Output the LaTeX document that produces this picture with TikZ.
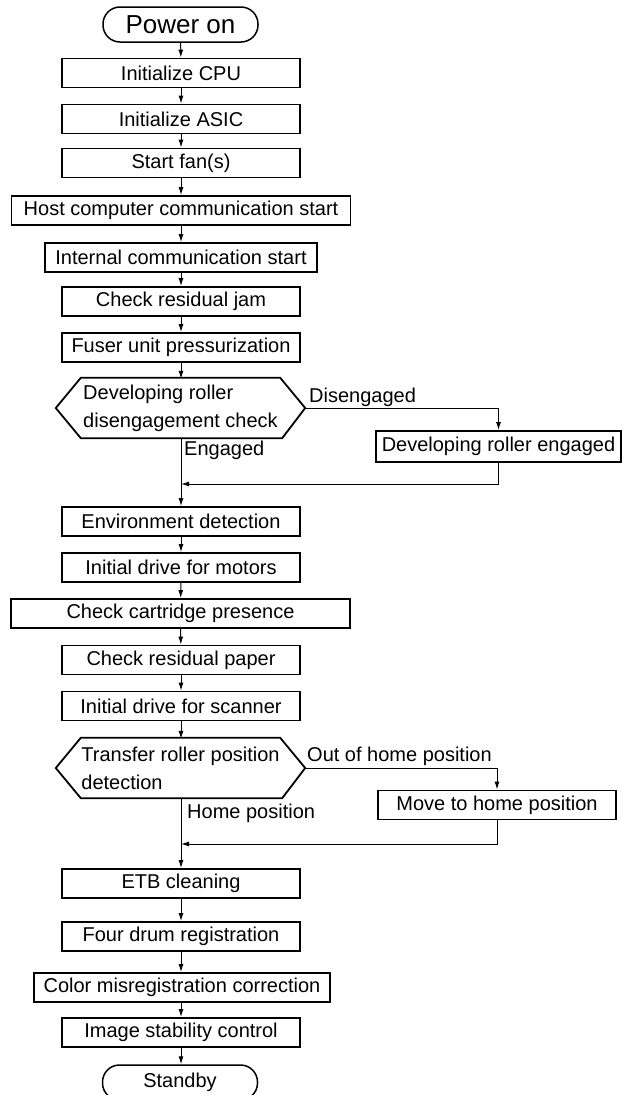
\documentclass[tikz,border=0pt]{standalone}
\usepackage{fontspec}
\setmainfont{Liberation Sans}
\usetikzlibrary{arrows.meta}

\begin{document}
\begin{tikzpicture}[x=1pt,y=-1pt,
  every node/.style={font=\fontsize{20}{28}\selectfont,inner sep=0pt},
  box/.style={draw,line width=1.8pt,minimum height=29pt,minimum width=238pt},
  term/.style={draw,line width=1.5pt,rounded corners=17pt,minimum height=35pt,minimum width=155pt},
  hex/.style={minimum height=60pt,minimum width=249pt,align=left},
  hexline/.style={line width=1.8pt,line join=miter},
  lbl/.style={anchor=west},
  e/.style={-{Latex[length=8pt,width=5pt]},line width=1pt}]
\useasboundingbox (0,0) rectangle (623,1095);
\node[term,font=\fontsize{26}{30}\selectfont] (BootPowerOn) at (180.5,24.5) {Power on};
\node[box] (BootCpu) at (181,73) {Initialize CPU};
\node[box] (BootAsic) at (181,119) {Initialize ASIC};
\node[box] (BootFan) at (181,163) {Start fan(s)};
\node[box,minimum width=339pt] (BootHost) at (181,210.5) {Host computer communication start};
\node[box,minimum width=272pt] (BootInternal) at (181,257.5) {Internal communication start};
\node[box] (BootJam) at (181,301.5) {Check residual jam};
\node[box] (BootFuser) at (181,347.5) {Fuser unit pressurization};
\node[hex] (BootDevCheck) at (180.5,408) {Developing roller\\disengagement check};
\node[box,minimum width=245pt,minimum height=31pt] (BootDevEngage) at (498.5,446.5) {Developing roller engaged};
\coordinate (BootJoinA) at (181,484);
\node[box] (BootEnv) at (181,521.5) {Environment detection};
\node[box] (BootMotors) at (181,567.5) {Initial drive for motors};
\node[box,minimum width=339pt] (BootCartridge) at (180.5,613.5) {Check cartridge presence};
\node[box] (BootPaper) at (181,660) {Check residual paper};
\node[box] (BootScanner) at (181,706) {Initial drive for scanner};
\node[hex] (BootTransfer) at (180.5,768) {Transfer roller position\\detection};
\node[box] (BootHomeMove) at (497,805) {Move to home position};
\coordinate (BootJoinB) at (181,844);
\node[box] (BootEtb) at (181,883.5) {ETB cleaning};
\node[box] (BootDrum) at (181,936.5) {Four drum registration};
\node[box,minimum width=296pt] (BootColor) at (182,987.5) {Color misregistration correction};
\node[box] (BootStability) at (181,1032.5) {Image stability control};
\node[term] (BootStandby) at (180,1082.5) {Standby};
\node[lbl] (BootDisTxt) at (309,397) {Disengaged};
\node[lbl] (BootEngTxt) at (184,450) {Engaged};
\node[lbl] (BootOutTxt) at (307,756) {Out of home position};
\node[lbl] (BootHomeTxt) at (187,813) {Home position};
\draw[hexline] (BootDevCheck.west) -- ([xshift=25pt]BootDevCheck.north west) -- ([xshift=-25pt]BootDevCheck.north east)
  -- (BootDevCheck.east) -- ([xshift=-23pt]BootDevCheck.south east) -- ([xshift=25pt]BootDevCheck.south west) -- cycle;
\draw[hexline] (BootTransfer.west) -- ([xshift=25pt]BootTransfer.north west) -- ([xshift=-25pt]BootTransfer.north east)
  -- (BootTransfer.east) -- ([xshift=-23pt]BootTransfer.south east) -- ([xshift=25pt]BootTransfer.south west) -- cycle;
\draw[e] (BootPowerOn) -- (BootCpu);
\draw[e] (BootCpu) -- (BootAsic);
\draw[e] (BootAsic) -- (BootFan);
\draw[e] (BootFan) -- (BootHost);
\draw[e] (BootHost) -- (BootInternal);
\draw[e] (BootInternal) -- (BootJam);
\draw[e] (BootJam) -- (BootFuser);
\draw[e] (BootFuser.south) -- ([yshift=-1pt]BootDevCheck.north -| BootFuser.south);
\draw[e] (BootDevCheck.east) -| (BootDevEngage.north);
\draw[e] (BootDevEngage.south) |- (BootJoinA);
\draw[e] (BootDevCheck.south -| BootEnv.north) -- (BootEnv.north);
\draw[e] (BootEnv) -- (BootMotors);
\draw[e] (BootMotors) -- (BootCartridge);
\draw[e] (BootCartridge) -- (BootPaper);
\draw[e] (BootPaper) -- (BootScanner);
\draw[e] (BootScanner.south) -- ([yshift=-1pt]BootTransfer.north -| BootScanner.south);
\draw[e] (BootTransfer.east) -| (BootHomeMove.north);
\draw[e] (BootHomeMove.south) |- (BootJoinB);
\draw[e] (BootTransfer.south -| BootEtb.north) -- (BootEtb.north);
\draw[e] (BootEtb) -- (BootDrum);
\draw[e] (BootDrum) -- (BootColor.north -| BootDrum.south);
\draw[e] (BootColor.south -| BootDrum.south) -- (BootStability);
\draw[e] (BootStability) -- (BootStandby.north -| BootStability.south);
\end{tikzpicture}
\end{document}
